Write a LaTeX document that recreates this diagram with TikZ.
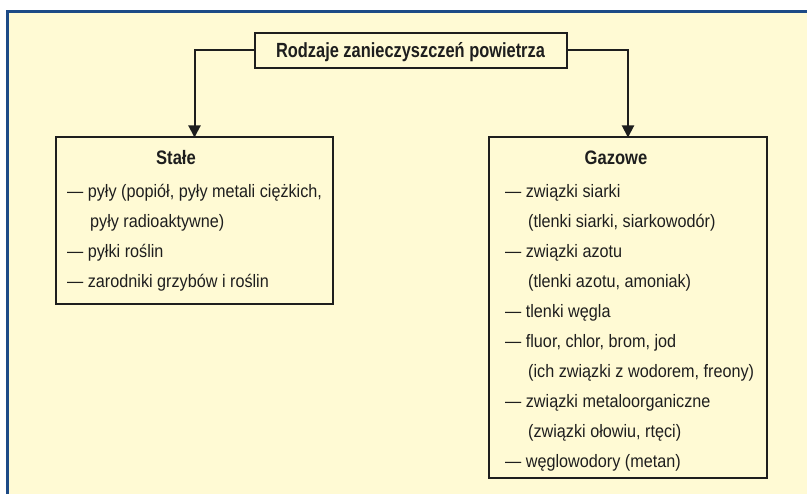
\documentclass[tikz,border=0pt]{standalone}
\usepackage{fontspec}
\usetikzlibrary{arrows.meta}
\setmainfont{Liberation Sans}
\newfontfamily\cond[FakeStretch=0.9]{Liberation Sans}
\newfontfamily\condb[FakeStretch=0.85]{Liberation Sans}
\newfontfamily\condt[FakeStretch=0.8]{Liberation Sans}
\definecolor{cream}{HTML}{FFFAD4}
\definecolor{navy}{HTML}{1D4A86}
\definecolor{ink}{HTML}{1E1E1E}
\tikzset{
  boxstyle/.style={draw=ink, line width=2pt, fill=cream, inner sep=0pt, outer sep=0pt},
  itemtext/.style={anchor=base west, inner sep=0pt, font=\cond\fontsize{18}{18}\selectfont, text=ink},
  headtext/.style={anchor=base, inner sep=0pt, font=\condb\bfseries\fontsize{19.5}{19.5}\selectfont, text=ink},
  conn/.style={draw=ink, line width=2pt, -{Triangle[width=12pt,length=12pt]}}
}
\begin{document}
\begin{tikzpicture}[x=1pt,y=-1pt]
\useasboundingbox (0,0) rectangle (807,494);
\fill[white] (0,0) rectangle (807,494);
\fill[cream] (7.5,11.5) rectangle (807,494);
\draw[navy, line width=3pt] (7.5,494) -- (7.5,11.5) -- (807,11.5);
% boxes
\node[boxstyle, minimum width=312pt, minimum height=35pt] (title) at (411,50.5) {};
\node[anchor=base, inner sep=0pt, font=\condt\bfseries\fontsize{20.5}{20.5}\selectfont, text=ink] (titletext) at (410.5,58) {Rodzaje zanieczyszczeń powietrza};
\node[boxstyle, minimum width=277pt, minimum height=167pt, anchor=north west] (stale) at (56,137.5) {};
\node[boxstyle, minimum width=278pt, minimum height=341pt, anchor=north west] (gazowe) at (489,137.5) {};
\draw[conn] (title.west) -| (stale.north);
\draw[conn] (title.east) -| (gazowe.north);
% left content
\node[headtext] (h1) at (176,165) {Stałe};
\node[itemtext] (l1) at (67,198) {— pyły (popiół, pyły metali ciężkich,};
\node[itemtext] (l2) at (90,228) {pyły radioaktywne)};
\node[itemtext] (l3) at (67,258) {— pyłki roślin};
\node[itemtext] (l4) at (67,288) {— zarodniki grzybów i roślin};
% right content
\node[headtext] (h2) at (616,165) {Gazowe};
\node[itemtext] (r1) at (505,198) {— związki siarki};
\node[itemtext] (r2) at (528,228) {(tlenki siarki, siarkowodór)};
\node[itemtext] (r3) at (505,258) {— związki azotu};
\node[itemtext] (r4) at (528,288) {(tlenki azotu, amoniak)};
\node[itemtext] (r5) at (505,318) {— tlenki węgla};
\node[itemtext] (r6) at (505,348) {— fluor, chlor, brom, jod};
\node[itemtext] (r7) at (528,378) {(ich związki z wodorem, freony)};
\node[itemtext] (r8) at (505,408) {— związki metaloorganiczne};
\node[itemtext] (r9) at (528,438) {(związki ołowiu, rtęci)};
\node[itemtext] (r10) at (505,468) {— węglowodory (metan)};
\end{tikzpicture}
\end{document}
